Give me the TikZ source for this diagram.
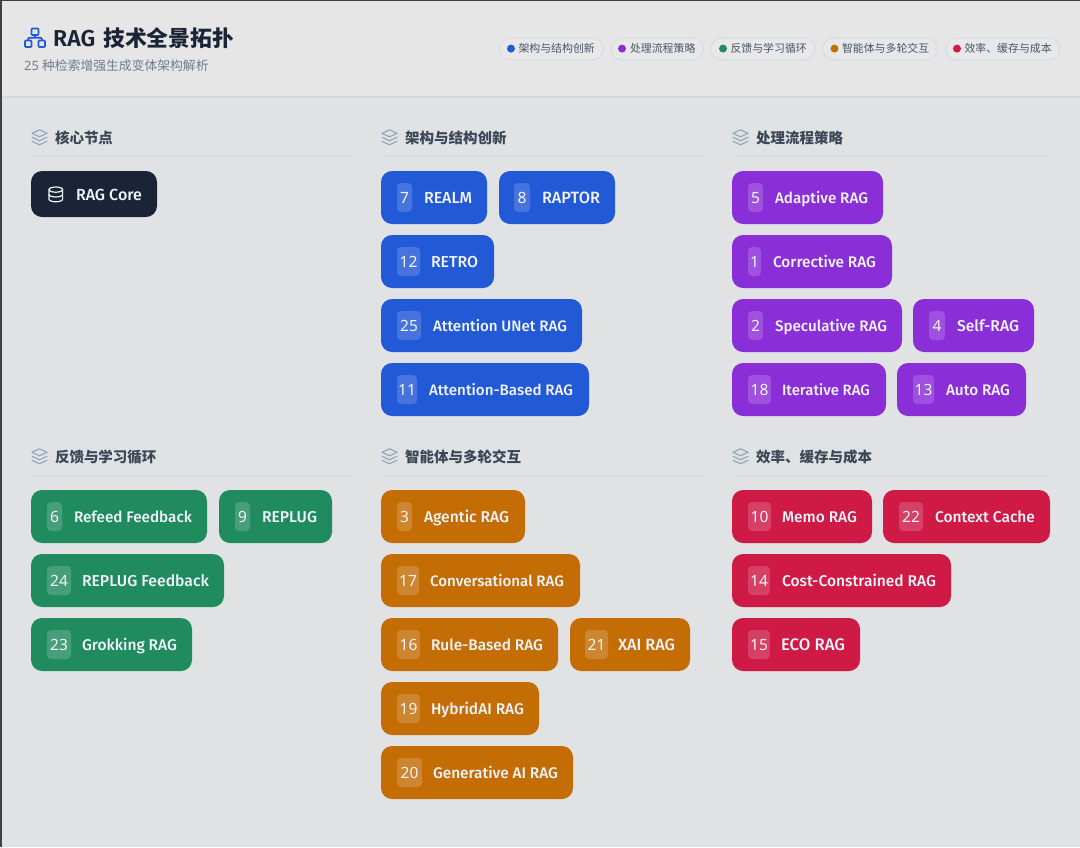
\documentclass[tikz,border=0pt]{standalone}
\usepackage{fontspec}
\setmainfont{Noto Sans}
\newfontfamily\cjk{Noto Sans CJK SC}
\newfontfamily\semi{Fira Sans Medium}
\newfontfamily\titlef{Fira Sans SemiBold}
\newlength\fitlen
\newcommand{\fitlabel}[2]{%
  \settowidth{\fitlen}{\semi\fontsize{14.5}{16}\selectfont #2}%
  \pgfmathsetmacro{\fitfs}{14.5*#1/\fitlen}%
  {\semi\fontsize{\fitfs}{16}\selectfont #2}}
\definecolor{hdbg}{HTML}{E6E6E6}
\definecolor{bodybg}{HTML}{E1E2E4}
\definecolor{hdline}{HTML}{D2D8E1}
\definecolor{secline}{HTML}{D8DAE1}
\definecolor{ink}{HTML}{1B2436}
\definecolor{secink}{HTML}{3B4656}
\definecolor{subink}{HTML}{6F7D91}
\definecolor{iconc}{HTML}{94A3B8}
\definecolor{legbor}{HTML}{D6DBE3}
\definecolor{legbg}{HTML}{E8E8E9}
\definecolor{legink}{HTML}{475569}
\definecolor{cblue}{HTML}{2259D6}
\definecolor{cpurple}{HTML}{8A2ED8}
\definecolor{cgreen}{HTML}{218B60}
\definecolor{corange}{HTML}{C56D05}
\definecolor{cred}{HTML}{D01A46}
\definecolor{chiptext}{HTML}{F1F4FA}
\tikzset{
  chipbox/.style={rounded corners=11pt,inner sep=0pt,outer sep=0pt,draw=none},
  badgebox/.style={fill=white,fill opacity=.17,rounded corners=4pt,inner sep=0pt,outer sep=0pt},
  labeltext/.style={inner sep=0pt,outer sep=0pt,anchor=base west,text=chiptext},
  numtext/.style={inner sep=0pt,outer sep=0pt,anchor=base,text=chiptext,font=\fontsize{15.5}{16}\selectfont},
  sectext/.style={inner sep=0pt,outer sep=0pt,anchor=base west,text=secink,font=\cjk\bfseries\fontsize{14.5}{16}\selectfont},
  secrule/.style={secline,line width=1.2pt},
  pill/.style={draw=legbor,line width=1pt,fill=legbg,rounded corners=11pt,inner sep=0pt,outer sep=0pt,minimum height=22pt},
  legtext/.style={inner sep=0pt,outer sep=0pt,anchor=base west,text=legink,font=\cjk\fontsize{10.9}{12}\selectfont},
  legdot/.style={circle,minimum size=8pt,inner sep=0pt,outer sep=0pt},
  iconline/.style={line width=1.1pt,line join=round,line cap=round}
}
\newcommand{\layersicon}[2]{%
  \begin{scope}[shift={(#1,#2)},iconc,iconline]
    \draw (0,-4.5) -- (7.5,-8) -- (15,-4.5) -- (7.5,-1) -- cycle;
    \draw (0,-.5) -- (7.5,3) -- (15,-.5);
    \draw (0,3.5) -- (7.5,7) -- (15,3.5);
  \end{scope}}
\begin{document}
\begin{tikzpicture}[x=1pt,y=-1pt]
\useasboundingbox (0,0) rectangle (1080,847);
\fill[bodybg] (0,0) rectangle (1080,847);
\fill[hdbg] (0,0) rectangle (1080,96);
\draw[hdline,line width=1.4pt] (0,96.8) -- (1080,96.8);
\fill[black!75] (0,0) rectangle (1080,.9);
\fill[black!75] (0,0) rectangle (1.6,847);

% title icon
\begin{scope}[cblue,line width=1.7pt,line join=round,rounded corners=.8pt]
  \draw (31.5,28.5) rectangle (38.5,35);
  \draw (25,40.5) rectangle (31.5,47);
  \draw (38.5,40.5) rectangle (45,47);
  \draw (28.2,40.5) -- (28.2,37.8) -- (41.8,37.8) -- (41.8,40.5);
  \draw (35,35) -- (35,37.8);
\end{scope}
\node[inner sep=0pt,anchor=base west,text=ink] (title) at (53,46)
  {\fontsize{23}{24}\selectfont\titlef RAG};
\node[inner sep=0pt,anchor=base west,text=ink] (titlecjk) at (103,46)
  {\fontsize{21.8}{24}\selectfont\cjk\bfseries 技术全景拓扑};
\node[inner sep=0pt,anchor=base west,text=subink] (subtitle) at (24,70)
  {\fontsize{12.8}{14}\selectfont 25 {\cjk 种检索增强生成变体架构解析}};

% legend
\foreach \id/\xa/\xb/\dx/\col/\tx/\txt in {
  a/499.5/603.5/511/cblue/518.5/架构与结构创新,
  b/611/703.5/622/cpurple/630/处理流程策略,
  c/711/815/723/cgreen/730.5/反馈与学习循环,
  d/823/937.5/834.5/corange/842/智能体与多轮交互,
  e/946/1060/957/cred/964.5/效率、缓存与成本}{
  \pgfmathsetmacro{\w}{\xb-\xa}
  \pgfmathsetmacro{\cx}{(\xa+\xb)/2}
  \node[pill,minimum width=\w pt] (pill\id) at (\cx,49) {};
  \node[legdot,fill=\col] (dot\id) at (\dx,48.6) {};
  \node[legtext] (leg\id) at (\tx,52.6) {\txt};
}

% section headers
\foreach \id/\xa/\xb/\ya/\txt in {
  s1/31/352/137/核心节点,
  s2/381/704/137/架构与结构创新,
  s3/732/1053/137/处理流程策略,
  s4/31/352/456/反馈与学习循环,
  s5/381/704/456/智能体与多轮交互,
  s6/732/1053/456/效率、缓存与成本}{
  \layersicon{\xa+1}{\ya+.8}
  \node[sectext] (\id) at (\xa+24,\ya+6) {\txt};
  \draw[secrule] (\xa,\ya+19.2) -- (\xb,\ya+19.2);
}

% core chip
\node[chipbox,fill=ink,minimum width=126pt,minimum height=46pt] (core) at (94,194) {};
\begin{scope}[chiptext,line width=1.2pt]
  \draw (55.8,189.6) ellipse[x radius=6.8,y radius=2.6];
  \draw (49,189.6) -- (49,199.2) arc[start angle=180,end angle=0,x radius=6.8,y radius=2.6] -- (62.6,189.6);
  \draw (49,194.4) arc[start angle=180,end angle=0,x radius=6.8,y radius=2.6];
\end{scope}
\node[labeltext] (corelabel) at (76,200.3) {\fitlabel{66}{RAG Core}};

% numbered chips
\foreach \id/\col/\xa/\ya/\xb/\ba/\bb/\num/\la/\lb/\txt in {
  n7/cblue/381/171/487/397/412/7/424/472/REALM,
  n8/cblue/499/171/615/514/530/8/542/600/RAPTOR,
  n12/cblue/381/235/494/397/420/12/431/478/RETRO,
  n25/cblue/381/299/582/397/421/25/433/567/Attention UNet RAG,
  n11/cblue/381/363/589/397/417/11/429/573/Attention-Based RAG,
  n5/cpurple/732/171/883/748/763/5/775/868/Adaptive RAG,
  n1/cpurple/732/235/892/748/761/1/773/876/Corrective RAG,
  n2/cpurple/732/299/902/748/763/2/775/887/Speculative RAG,
  n4/cpurple/913/299/1034/929/945/4/957/1019/Self-RAG,
  n18/cpurple/732/363/886/748/771/18/782/870/Iterative RAG,
  n13/cpurple/897/363/1026/913/934/13/946/1010/Auto RAG,
  n6/cgreen/31/490/207/47/62/6/74/192/Refeed Feedback,
  n9/cgreen/219/490/332/235/250/9/262/317/REPLUG,
  n24/cgreen/31/554/224/47/71/24/82/209/REPLUG Feedback,
  n23/cgreen/31/618/192/47/71/23/82/177/Grokking RAG,
  n3/corange/381/490/525/397/412/3/424/509/Agentic RAG,
  n17/corange/381/554/580/397/419/17/430/564/Conversational RAG,
  n16/corange/381/618/558/397/420/16/431/543/Rule-Based RAG,
  n21/corange/570/618/690/585/608/21/618/675/XAI RAG,
  n19/corange/381/682/539/397/420/19/431/524/HybridAI RAG,
  n20/corange/381/746/573/397/422/20/433/558/Generative AI RAG,
  n10/cred/732/490/872/748/771/10/782/857/Memo RAG,
  n22/cred/883/490/1050/899/923/22/935/1035/Context Cache,
  n14/cred/732/554/951/748/770/14/782/936/Cost-Constrained RAG,
  n15/cred/732/618/860/748/770/15/781/845/ECO RAG}{
  \pgfmathsetmacro{\w}{\xb-\xa}
  \pgfmathsetmacro{\cx}{(\xa+\xb)/2}
  \pgfmathsetmacro{\cy}{\ya+26.5}
  \pgfmathsetmacro{\bw}{\bb-\ba}
  \pgfmathsetmacro{\bx}{(\ba+\bb)/2}
  \pgfmathsetmacro{\lw}{\lb-\la}
  \pgfmathsetmacro{\by}{\cy+5.6}
  \node[chipbox,fill=\col,minimum width=\w pt,minimum height=53pt] (chip\id) at (\cx,\cy) {};
  \node[badgebox,minimum width=\bw pt,minimum height=29pt] (badge\id) at (\bx,\cy) {};
  \node[numtext] (num\id) at (\bx,\by) {\num};
  \node[labeltext] (label\id) at (\la,\by) {\fitlabel{\lw}{\txt}};
}
\end{tikzpicture}
\end{document}
